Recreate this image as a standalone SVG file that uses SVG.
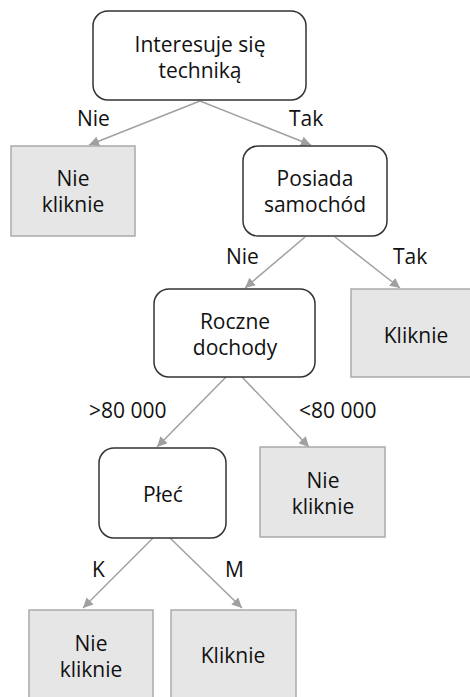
<svg xmlns="http://www.w3.org/2000/svg" width="470" height="697" viewBox="0 0 470 697">
<style>
text{font-family:"Open Sans","Noto Sans",sans-serif;font-size:21px;fill:#111;text-anchor:middle}
.dec{fill:#fff;stroke:#333;stroke-width:1.5}
.leaf{fill:#e6e6e6;stroke:#aaa;stroke-width:1.5}
.edge{stroke:#a0a0a0;stroke-width:1.5;fill:none;marker-end:url(#ah)}
.lbl{text-anchor:start}
</style>
<defs>
<marker id="ah" viewBox="0 0 10 10" refX="10" refY="5" markerWidth="10" markerHeight="10" markerUnits="userSpaceOnUse" orient="auto">
<path d="M0,0 L10,5 L0,10 z" fill="#a0a0a0"/>
</marker>
</defs>
<g id="connectors">
<path class="edge" d="M200,101 L89,145"/>
<path class="edge" d="M200,101 L311,145"/>
<path class="edge" d="M305,237 L245,288"/>
<path class="edge" d="M335,237 L400,288"/>
<path class="edge" d="M226,377 L157,447"/>
<path class="edge" d="M242,377 L309,447"/>
<path class="edge" d="M153,538 L83,608"/>
<path class="edge" d="M170,538 L242,608"/>
<text class="lbl" x="77" y="126">Nie</text>
<text class="lbl" x="289" y="126">Tak</text>
<text class="lbl" x="226" y="264">Nie</text>
<text class="lbl" x="393" y="264">Tak</text>
<text class="lbl" x="89" y="418">&gt;80 000</text>
<text class="lbl" x="299" y="418">&lt;80 000</text>
<text class="lbl" x="92" y="577">K</text>
<text class="lbl" x="225" y="577">M</text>
</g>
<g id="n-root">
<rect class="dec" x="93" y="11" width="213" height="89" rx="15"/>
<text x="200" y="52">Interesuje się</text>
<text x="200" y="78">techniką</text>
</g>
<g id="n-leaf1">
<rect class="leaf" x="11" y="146" width="124" height="90"/>
<text x="73" y="186">Nie</text>
<text x="73" y="212">kliknie</text>
</g>
<g id="n-car">
<rect class="dec" x="243" y="146" width="144" height="90" rx="15"/>
<text x="315" y="186">Posiada</text>
<text x="315" y="212">samochód</text>
</g>
<g id="n-income">
<rect class="dec" x="154" y="289" width="161" height="88" rx="15"/>
<text x="235" y="329">Roczne</text>
<text x="235" y="355">dochody</text>
</g>
<g id="n-leaf2">
<rect class="leaf" x="351" y="289" width="120" height="88"/>
<text x="416" y="343">Kliknie</text>
</g>
<g id="n-sex">
<rect class="dec" x="99" y="448" width="127" height="90" rx="15"/>
<text x="163" y="502">Płeć</text>
</g>
<g id="n-leaf3">
<rect class="leaf" x="260" y="447" width="125" height="90"/>
<text x="323" y="488">Nie</text>
<text x="323" y="514">kliknie</text>
</g>
<g id="n-leaf4">
<rect class="leaf" x="29" y="610" width="124" height="92"/>
<text x="91" y="651">Nie</text>
<text x="91" y="677">kliknie</text>
</g>
<g id="n-leaf5">
<rect class="leaf" x="171" y="610" width="125" height="92"/>
<text x="233" y="663">Kliknie</text>
</g>
</svg>
